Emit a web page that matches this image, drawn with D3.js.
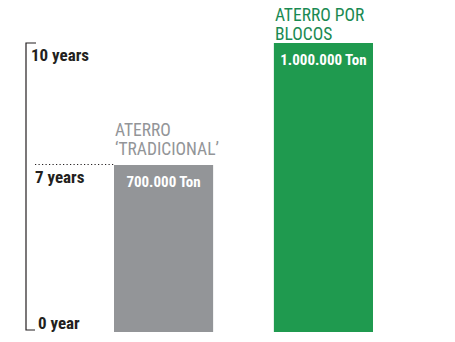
<!DOCTYPE html>
<html><head><meta charset="utf-8">
<script src="https://cdn.jsdelivr.net/npm/d3@7"></script>
<style>
html,body{margin:0;padding:0;background:#fff;}
svg{display:block;}
</style></head>
<body>
<svg id="chart" width="455" height="342"></svg>
<script>
const categories = [["ATERRO", "‘TRADICIONAL’"], ["ATERRO POR", "BLOCOS"]];
const years = [7, 10];
const barLabels = ["700.000 Ton", "1.000.000 Ton"];
const tickValues = [0, 7, 10];
const tickLabels = ["0 year", "7 years", "10 years"];

const barColors = ["#939598", "#1f9a4f"];
const textColors = ["#939598", "#1a8a52"];
const font = "'Liberation Sans Narrow','Roboto Condensed','DejaVu Sans Condensed',Arial,sans-serif";

const svg = d3.select("#chart");
const x = d3.scaleBand().domain([0, 1]).range([114, 373]).paddingInner(0.38);
// polylinear scale matching the infographic's (non-proportional) heights
const y = d3.scaleLinear().domain([0, 7, 10]).range([332, 165, 43]);

// axis
const axisX = 26;
svg.append("path")
  .attr("d", `M${axisX + 10},${y(10)}H${axisX}V${y(0) - 2}H${axisX + 9}`)
  .attr("fill", "none").attr("stroke", "#231f20").attr("stroke-width", 1.2);

// dotted line at 7 years
svg.append("line")
  .attr("x1", 35).attr("x2", x(0)).attr("y1", y(7) - 0.5).attr("y2", y(7) - 0.5)
  .attr("stroke", "#231f20").attr("stroke-width", 1.2).attr("stroke-dasharray", "1.2,2.3");

const tickX = [38, 35, 31];
const tickY = [y(0) - 3, y(7) + 18, y(10) + 18];
svg.selectAll("text.tick").data(tickValues).enter().append("text")
  .attr("class", "tick")
  .attr("x", (d, i) => tickX[i]).attr("y", (d, i) => tickY[i])
  .attr("font-family", font).attr("font-weight", "bold").attr("font-size", 17)
  .attr("fill", "#231f20")
  .text((d, i) => tickLabels[i]);

// bars
svg.selectAll("rect.bar").data(years).enter().append("rect")
  .attr("class", "bar")
  .attr("x", (d, i) => x(i)).attr("width", x.bandwidth())
  .attr("y", d => y(d)).attr("height", d => y(0) - y(d))
  .attr("fill", (d, i) => barColors[i]);

// bar value labels
svg.selectAll("text.val").data(years).enter().append("text")
  .attr("class", "val")
  .attr("x", (d, i) => x(i) + x.bandwidth() / 2)
  .attr("y", d => y(d) + 22)
  .attr("text-anchor", "middle")
  .attr("font-family", font).attr("font-weight", "bold").attr("font-size", 15)
  .attr("fill", "#fff")
  .text((d, i) => barLabels[i]);

// category labels
categories.forEach((lines, i) => {
  const t = svg.append("text")
    .attr("font-family", font).attr("font-size", 17.5)
    .attr("fill", textColors[i]);
  lines.forEach((ln, j) => {
    t.append("tspan").attr("x", x(i) + 1)
      .attr("y", y(years[i]) - 22 + j * 19 - (i === 0 ? 7 : 0))
      .text(ln);
  });
});
</script>
</body></html>
